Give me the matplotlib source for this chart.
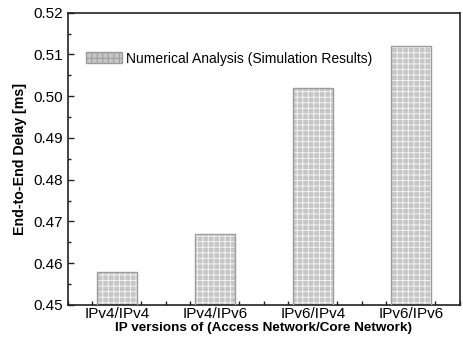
import matplotlib
matplotlib.use("Agg")
import matplotlib.pyplot as plt
from matplotlib.patches import Patch
from matplotlib.ticker import MultipleLocator, FormatStrFormatter

categories = ["IPv4/IPv4", "IPv4/IPv6", "IPv6/IPv4", "IPv6/IPv6"]
delays = [0.458, 0.467, 0.502, 0.512]
legend_label = "Numerical Analysis (Simulation Results)"

plt.rcParams['font.family'] = ['Liberation Sans', 'DejaVu Sans']
plt.rcParams['hatch.linewidth'] = 0.7

fig = plt.figure(figsize=(4.64, 3.41), dpi=100)
ax = fig.add_axes([68/464, 1-305/341, (460-68)/464, (305-12.7)/341])

x = list(range(1, len(categories) + 1))
ax.bar(x, delays, width=0.4, color='#c6c6c6', edgecolor='#f2f2f2', hatch='+++',
       linewidth=0, zorder=2)
ax.bar(x, delays, width=0.4, fill=False, edgecolor='#9c9c9c', linewidth=1.0, zorder=3)

ax.set_xlim(0.5, 4.5)
ax.set_ylim(0.45, 0.52)
ax.set_xticks(x)
ax.set_xticklabels(categories, fontsize=11)
ax.xaxis.set_minor_locator(MultipleLocator(0.25))
ax.yaxis.set_major_locator(MultipleLocator(0.01))
ax.yaxis.set_minor_locator(MultipleLocator(0.005))
ax.yaxis.set_major_formatter(FormatStrFormatter('%.2f'))
ax.tick_params(axis='both', which='both', direction='in', color='#222222')
ax.tick_params(axis='y', which='major', length=4, labelsize=11, width=1)
ax.tick_params(axis='y', which='minor', length=2.5, width=1)
ax.tick_params(axis='x', which='both', length=3, width=1, pad=1.5)
for s in ax.spines.values():
    s.set_linewidth(1.2)
    s.set_color('#222222')

ax.set_ylabel("End-to-End Delay [ms]", fontsize=10.2, fontweight='bold', labelpad=5)
ax.set_xlabel("IP versions of (Access Network/Core Network)", fontsize=9.7,
              fontweight='bold', labelpad=0.5)

handle = Patch(facecolor='#c6c6c6', edgecolor='#9c9c9c', hatch='+++', linewidth=1)
leg = ax.legend([handle], [legend_label], loc='upper left', bbox_to_anchor=(0.014, 0.91),
                frameon=False, fontsize=10, handlelength=2.6, handleheight=0.8,
                handletextpad=0.3)

fig.savefig("out.png", dpi=100)
